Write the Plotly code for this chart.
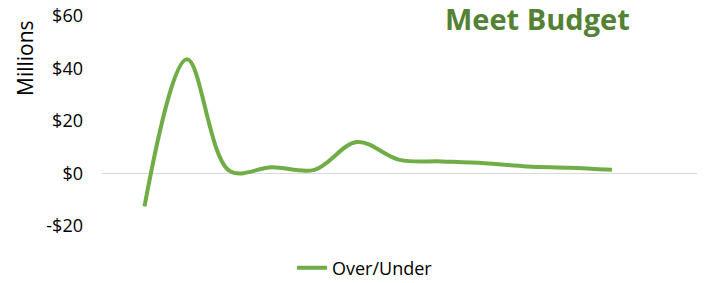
import plotly.graph_objects as go

periods = ["P1", "P2", "P3", "P4", "P5", "P6", "P7", "P8", "P9", "P10", "P11", "P12"]
over_under = [-12.5, 43.5, 1.0, 2.4, 1.4, 12.0, 5.2, 4.6, 3.9, 2.7, 2.2, 1.4]
tick_vals = [-20, 0, 20, 40, 60]
tick_text = ["-$20", "$0", "$20", "$40", "$60"]

FONT = "Open Sans, Noto Sans, sans-serif"

fig = go.Figure()
fig.add_trace(go.Scatter(
    x=list(range(len(periods))), y=over_under, mode="lines", name="Over/Under",
    line=dict(color="#70AD47", width=4, shape="spline", smoothing=1.0),
    text=periods, hoverinfo="text+y",
))

fig.update_layout(
    width=715, height=283,
    margin=dict(l=102, r=18, t=16, b=57, autoexpand=False),
    paper_bgcolor="white", plot_bgcolor="white",
    font=dict(family=FONT, size=18, color="#000000"),
    showlegend=True,
    legend=dict(orientation="h", x=0.442, xanchor="center", y=-0.2, yanchor="middle",
                font=dict(size=18, family=FONT, color="#000000")),
    xaxis=dict(range=[-1, 13], showgrid=False, zeroline=False, showticklabels=False,
               showline=False, ticks="", automargin=False),
    yaxis=dict(range=[-20, 60], tickvals=tick_vals, ticktext=tick_text,
               showgrid=False, zeroline=True, zerolinecolor="#D9D9D9", zerolinewidth=1,
               showline=False, ticks="", ticklabelstandoff=18, automargin=False,
               tickfont=dict(size=18, family=FONT, color="#000000")),
    annotations=[
        dict(text="<b>Meet Budget</b>", xref="paper", yref="paper",
             x=(537 - 102) / 595, y=1 + (16 - 19) / 210, xanchor="center", yanchor="middle",
             showarrow=False, font=dict(size=29, family=FONT, color="#548235")),
        dict(text="Millions", xref="paper", yref="paper",
             x=(25 - 102) / 595, y=1 - (58 - 16) / 210, xanchor="center", yanchor="middle",
             textangle=-90, showarrow=False, font=dict(size=21, family=FONT, color="#000000")),
    ],
)

fig.write_html("out.html", config={"displayModeBar": False},
               post_script="document.body.style.margin='0';")
